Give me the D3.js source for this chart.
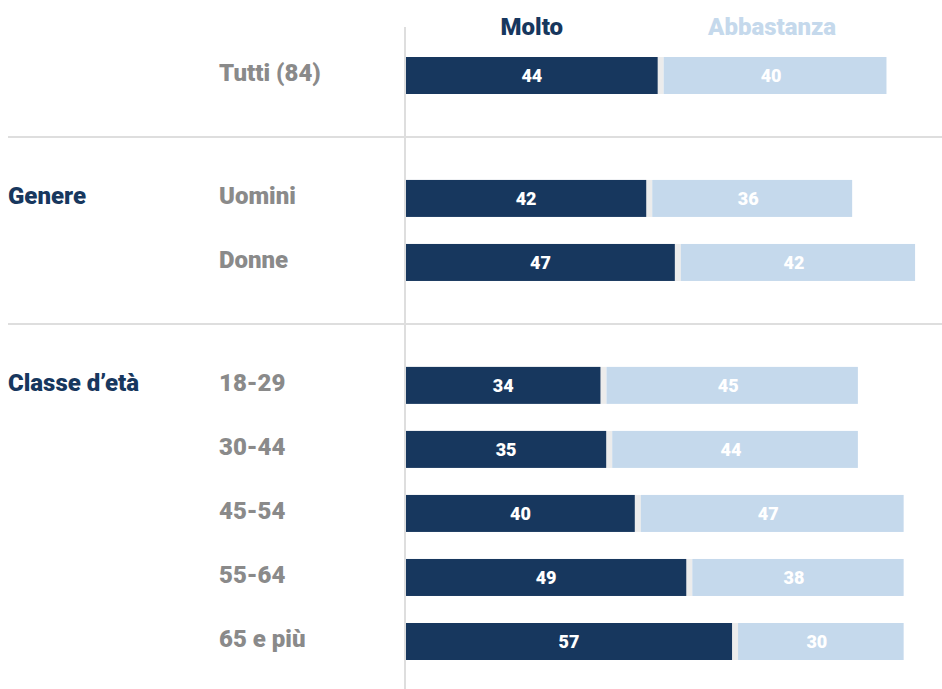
<!DOCTYPE html>
<html>
<head>
<meta charset="utf-8">
<script src="https://cdn.jsdelivr.net/npm/d3@7"></script>
<style>
  body { margin: 0; background: #fff; }
  svg text { font-family: Roboto, "Open Sans", sans-serif; font-weight: 900; }
</style>
</head>
<body>
<div class="plot"></div>
<script>
// data
const rowLabels = ["Tutti (84)", "Uomini", "Donne", "18-29", "30-44", "45-54", "55-64", "65 e più"];
const rowGroup = [0, 1, 1, 2, 2, 2, 2, 2];
const groupLabels = ["", "Genere", "Classe d’età"];
const molto = [44, 42, 47, 34, 35, 40, 49, 57];
const abbastanza = [40, 36, 42, 45, 44, 47, 38, 30];
const seriesNames = ["Molto", "Abbastanza"];

const width = 942, height = 689;
const dark = "#17375e", light = "#c5d9ec", grey = "#8a8a8a", rule = "#dedede";

let svg = d3.select(".plot")
  .append("svg")
  .attr("width", width)
  .attr("height", height);

// each row takes a slot, groups add a smaller extra gap
let slot = rowLabels.map((d, i) => i + rowGroup[i] * 0.92);
let yScale = d3.scaleLinear()
  .domain([0, d3.max(slot)])
  .range([75.5, 641.5]);
let xScale = d3.scaleLinear()
  .domain([0, 100])
  .range([406, 406 + 572]);
let barH = 37, gap = 6;

// separators between groups
let firstOfGroup = rowGroup.map((g, i) => i > 0 && rowGroup[i - 1] !== g ? i : -1).filter(i => i > 0);
svg.selectAll(".sep")
  .data(firstOfGroup)
  .enter()
  .append("line")
  .attr("x1", 8)
  .attr("x2", width)
  .attr("y1", i => (yScale(slot[i]) + yScale(slot[i - 1])) / 2)
  .attr("y2", i => (yScale(slot[i]) + yScale(slot[i - 1])) / 2)
  .attr("stroke", rule)
  .attr("stroke-width", 2);

// vertical base line
svg.append("line")
  .attr("x1", xScale(0) - 1)
  .attr("x2", xScale(0) - 1)
  .attr("y1", 27)
  .attr("y2", height)
  .attr("stroke", rule)
  .attr("stroke-width", 2);

// headers
svg.append("text")
  .attr("x", xScale(molto[0] / 2))
  .attr("y", 35)
  .attr("text-anchor", "middle")
  .attr("fill", dark)
  .style("font-size", "24px")
  .text(seriesNames[0]);
svg.append("text")
  .attr("x", (xScale(molto[0]) + xScale(molto[0] + abbastanza[0])) / 2)
  .attr("y", 35)
  .attr("text-anchor", "middle")
  .attr("fill", light)
  .style("font-size", "24px")
  .text(seriesNames[1]);

let rows = svg.selectAll(".row")
  .data(rowLabels)
  .enter()
  .append("g")
  .attr("class", "row")
  .attr("transform", (d, i) => "translate(0," + yScale(slot[i]) + ")");

// row labels
rows.append("text")
  .attr("x", 219)
  .attr("y", -3)
  .attr("dy", "0.35em")
  .attr("fill", grey)
  .style("font-size", "24px")
  .text(d => d);

// group labels on first row of group
rows.filter((d, i) => rowGroup[i] > 0 && (i === 0 || rowGroup[i - 1] !== rowGroup[i]))
  .append("text")
  .attr("x", 8)
  .attr("y", -3)
  .attr("dy", "0.35em")
  .attr("fill", dark)
  .style("font-size", "24px")
  .text(d => groupLabels[rowGroup[rowLabels.indexOf(d)]]);

// separator strip between the segments
rows.append("rect")
  .attr("x", (d, i) => xScale(molto[i]))
  .attr("y", -barH / 2)
  .attr("width", gap)
  .attr("height", barH)
  .attr("fill", "#ececec");

rows.append("rect")
  .attr("x", xScale(0))
  .attr("y", -barH / 2)
  .attr("width", (d, i) => xScale(molto[i]) - xScale(0))
  .attr("height", barH)
  .attr("fill", dark);

rows.append("rect")
  .attr("x", (d, i) => xScale(molto[i]) + gap)
  .attr("y", -barH / 2)
  .attr("width", (d, i) => xScale(molto[i] + abbastanza[i]) - xScale(molto[i]) - gap)
  .attr("height", barH)
  .attr("fill", light);

// values
rows.append("text")
  .attr("x", (d, i) => xScale(molto[i] / 2))
  .attr("y", 0)
  .attr("dy", "0.35em")
  .attr("text-anchor", "middle")
  .attr("fill", "#fff")
  .style("font-size", "18px")
  .text((d, i) => molto[i]);

rows.append("text")
  .attr("x", (d, i) => (xScale(molto[i]) + gap + xScale(molto[i] + abbastanza[i])) / 2 - 4)
  .attr("y", 0)
  .attr("dy", "0.35em")
  .attr("text-anchor", "middle")
  .attr("fill", "#fff")
  .style("font-size", "18px")
  .text((d, i) => abbastanza[i]);
</script>
</body>
</html>
